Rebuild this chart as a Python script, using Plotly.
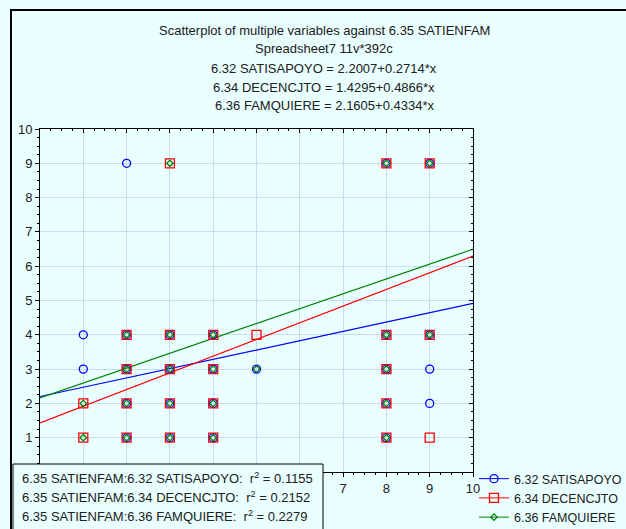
import plotly.graph_objects as go

# ---- data ----
series_names = ["6.32 SATISAPOYO", "6.34 DECENCJTO", "6.36 FAMQUIERE"]
intercepts = [2.2007, 1.4295, 2.1605]
slopes = [0.2714, 0.4866, 0.4334]
r2_values = ["0.1155", "0.2152", "0.2279"]

satisapoyo_x = [1, 1, 2, 2, 2, 2, 2, 3, 3, 3, 3, 4, 4, 4, 4, 5, 8, 8, 8, 8, 8, 9, 9, 9, 9]
satisapoyo_y = [4, 3, 9, 4, 3, 2, 1, 4, 3, 2, 1, 4, 3, 2, 1, 3, 9, 4, 3, 2, 1, 9, 4, 3, 2]
decencjto_x = [1, 1, 2, 2, 2, 2, 3, 3, 3, 3, 3, 4, 4, 4, 4, 5, 8, 8, 8, 8, 8, 9, 9, 9]
decencjto_y = [2, 1, 4, 3, 2, 1, 9, 4, 3, 2, 1, 4, 3, 2, 1, 4, 9, 4, 3, 2, 1, 9, 4, 1]
famquiere_x = [1, 1, 2, 2, 2, 2, 3, 3, 3, 3, 3, 4, 4, 4, 4, 5, 8, 8, 8, 8, 8, 9, 9]
famquiere_y = [2, 1, 4, 3, 2, 1, 9, 4, 3, 2, 1, 4, 3, 2, 1, 3, 9, 4, 3, 2, 1, 9, 4]

x_range = [0, 10]
y_range = [0, 10]
x_ticks = [0, 1, 2, 3, 4, 5, 6, 7, 8, 9, 10]
x_ticklabels = ["", "", "", "", "", "", "", "7", "8", "9", "10"]  # 0-6 hidden under the r² box
y_ticks = [0, 1, 2, 3, 4, 5, 6, 7, 8, 9, 10]
y_ticklabels = ["", "1", "2", "3", "4", "5", "6", "7", "8", "9", "10"]

title_lines = [
    "Scatterplot of multiple variables against 6.35 SATIENFAM",
    "Spreadsheet7 11v*392c",
    "6.32 SATISAPOYO = 2.2007+0.2714*x",
    "6.34 DECENCJTO = 1.4295+0.4866*x",
    "6.36 FAMQUIERE = 2.1605+0.4334*x",
]
x_var = "6.35 SATIENFAM"

# ---- style ----
FONT = "Liberation Sans, Arial, sans-serif"
TXT = "#202020"
BG = "#EAFFFF"
GRID = "#C9DDF2"
colors = ["#0000FF", "#FF0000", "#008000"]
symbols = ["circle-open", "square-open", "diamond-open"]
sizes = [8, 9, 5]

W, H = 626, 529
L, R, T, B = 40, 153, 129, 57
pw, ph = W - L - R, H - T - B


def px(xp):
    return (xp - L) / pw


def py(yp):
    return (H - B - yp) / ph


fig = go.Figure()

xs = [satisapoyo_x, decencjto_x, famquiere_x]
ys = [satisapoyo_y, decencjto_y, famquiere_y]

# regression lines
for i in range(3):
    lx = list(x_range)
    ly = [intercepts[i] + slopes[i] * v for v in lx]
    fig.add_trace(go.Scatter(x=lx, y=ly, mode="lines", line=dict(color=colors[i], width=1.2),
                             showlegend=False, hoverinfo="skip"))

# points
for i in range(3):
    fig.add_trace(go.Scatter(x=xs[i], y=ys[i], mode="markers",
                             marker=dict(symbol=symbols[i], size=sizes[i], color=colors[i],
                                         line=dict(width=1.3, color=colors[i])),
                             showlegend=False, name=series_names[i]))

# legend entries
for i in range(3):
    fig.add_trace(go.Scatter(x=[None], y=[None], mode="lines+markers", name=series_names[i],
                             line=dict(color=colors[i], width=1),
                             marker=dict(symbol=symbols[i], size=sizes[i], color=colors[i],
                                         line=dict(width=1.3, color=colors[i]))))

# mirror axes (top/right with inside ticks)
fig.add_trace(go.Scatter(x=[None], y=[None], xaxis="x2", yaxis="y2", showlegend=False))

axis_common = dict(showline=True, linecolor="black", linewidth=1, zeroline=False,
                   tickfont=dict(family=FONT, size=13, color=TXT))

fig.update_layout(
    width=W, height=H,
    margin=dict(l=L, r=R, t=T, b=B, pad=0, autoexpand=False),
    paper_bgcolor=BG, plot_bgcolor=BG,
    font=dict(family=FONT, size=13, color=TXT),
    xaxis=dict(range=x_range, tickvals=x_ticks, ticktext=x_ticklabels, showgrid=True, gridcolor=GRID,
               gridwidth=1, ticks="outside", ticklen=4, tickcolor="black", automargin=False,
               minor=dict(ticks="outside", ticklen=2, dtick=0.25, tickcolor="black", showgrid=False),
               **axis_common),
    yaxis=dict(range=y_range, tickvals=y_ticks, ticktext=y_ticklabels, showgrid=True, gridcolor=GRID,
               gridwidth=1, ticks="outside", ticklen=4, tickcolor="black", automargin=False,
               minor=dict(ticks="outside", ticklen=2, dtick=0.25, tickcolor="black", showgrid=False),
               **axis_common),
    xaxis2=dict(range=x_range, overlaying="x", side="top", anchor="y", showticklabels=False,
                tickvals=x_ticks, ticks="inside", ticklen=4, tickcolor="black", showgrid=False,
                minor=dict(ticks="inside", ticklen=2, dtick=0.25, tickcolor="black"),
                showline=True, linecolor="black", linewidth=1, zeroline=False),
    yaxis2=dict(range=y_range, overlaying="y", side="right", anchor="x", showticklabels=False,
                tickvals=y_ticks, ticks="inside", ticklen=4, tickcolor="black", showgrid=False,
                minor=dict(ticks="inside", ticklen=2, dtick=0.25, tickcolor="black"),
                showline=True, linecolor="black", linewidth=1, zeroline=False),
    legend=dict(x=px(474), y=py(464), xanchor="left", yanchor="top", bgcolor="rgba(0,0,0,0)",
                font=dict(family=FONT, size=12.5, color=TXT), tracegroupgap=0,
                itemwidth=30),
    showlegend=True,
)

shapes = []
# frame lines (top and left)
shapes.append(dict(type="line", xref="paper", yref="paper", x0=px(10), x1=px(640), y0=py(10), y1=py(10),
                   line=dict(color="black", width=2), layer="above"))
shapes.append(dict(type="line", xref="paper", yref="paper", x0=px(11), x1=px(11), y0=py(9), y1=py(540),
                   line=dict(color="black", width=2), layer="above"))
# r^2 box
shapes.append(dict(type="rect", xref="paper", yref="paper", x0=px(13), x1=px(323), y0=py(464), y1=py(540),
                   fillcolor=BG, line=dict(color="black", width=1), layer="above"))
fig.update_layout(shapes=shapes)

annotations = []
title_y = [30, 49, 68, 87, 106]
for t, yy in zip(title_lines, title_y):
    annotations.append(dict(text=t, xref="paper", yref="paper", x=px(324), y=py(yy), xanchor="center",
                            yanchor="middle", showarrow=False, font=dict(family=FONT, size=13, color=TXT)))
row_y = [478, 497, 516]
for i in range(3):
    txt = f"{x_var}:{series_names[i]}:  r<sup>2</sup> = {r2_values[i]}"
    annotations.append(dict(text=txt, xref="paper", yref="paper", x=px(20), y=py(row_y[i]), xanchor="left",
                            yanchor="middle", showarrow=False, font=dict(family=FONT, size=13, color=TXT)))
fig.update_layout(annotations=annotations)

fig.write_html("out.html", config={"displayModeBar": False},
               post_script="document.body.style.margin='0';document.body.style.overflow='hidden';")
